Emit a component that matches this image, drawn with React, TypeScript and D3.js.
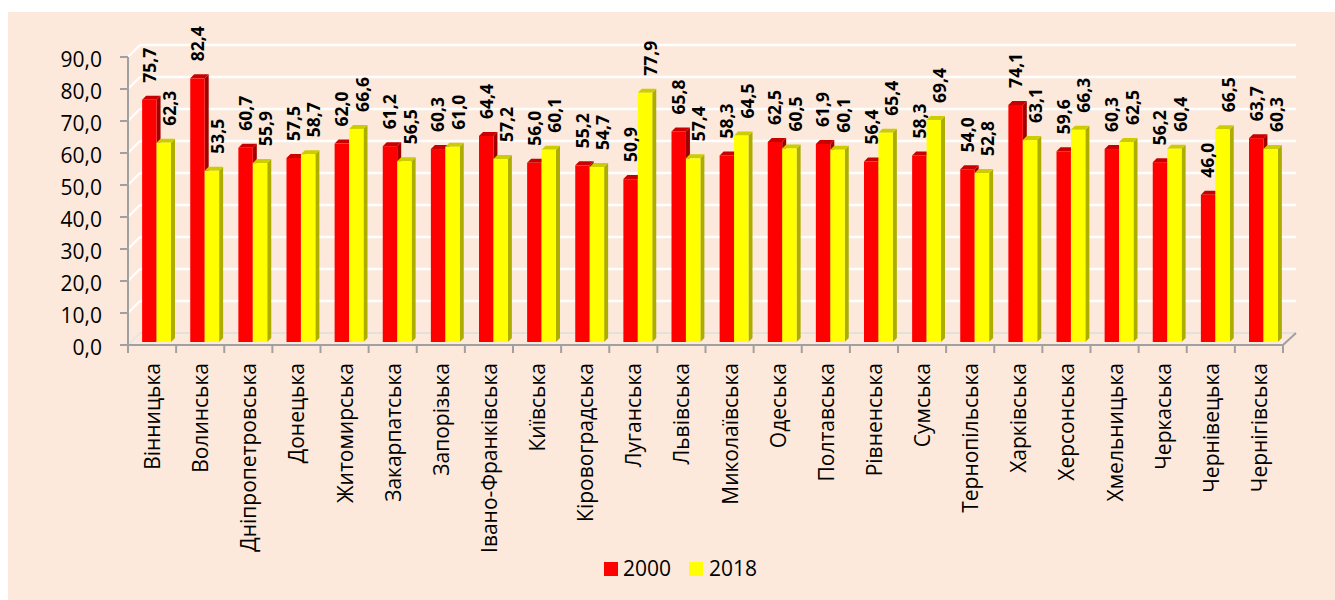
import React from "react";
import * as d3 from "d3";

const categories = [
  "Вінницька", "Волинська", "Дніпропетровська", "Донецька", "Житомирська",
  "Закарпатська", "Запорізька", "Івано-Франківська", "Київська", "Кіровоградська",
  "Луганська", "Львівська", "Миколаївська", "Одеська", "Полтавська", "Рівненська",
  "Сумська", "Тернопільська", "Харківська", "Херсонська", "Хмельницька",
  "Черкаська", "Чернівецька", "Чернігівська",
];
const values2000 = [75.7, 82.4, 60.7, 57.5, 62.0, 61.2, 60.3, 64.4, 56.0, 55.2, 50.9, 65.8, 58.3, 62.5, 61.9, 56.4, 58.3, 54.0, 74.1, 59.6, 60.3, 56.2, 46.0, 63.7];
const values2018 = [62.3, 53.5, 55.9, 58.7, 66.6, 56.5, 61.0, 57.2, 60.1, 54.7, 77.9, 57.4, 64.5, 60.5, 60.1, 65.4, 69.4, 52.8, 63.1, 66.3, 62.5, 60.4, 66.5, 60.3];
const seriesNames = ["2000", "2018"];
const yTicks = [0, 10, 20, 30, 40, 50, 60, 70, 80, 90];

const FONT = "'Open Sans', 'DejaVu Sans', sans-serif";
const BG = "#FCE9DB";
const AXIS = "#A0A0A0";
const colors = {
  "2000": { front: "#FF0000", top: "#C80000", side: "#A00000", labelShift: 0 },
  "2018": { front: "#FFFF00", top: "#CCCC00", side: "#ADAD00", labelShift: 6 },
};

const fmt = (v: number) => d3.format(".1f")(v).replace(".", ",");

export default function App() {
  const W = 1335, H = 600;
  const x0 = 128, x1 = 1283;
  const wallD = 12;
  const barShiftX = 4.5, barShiftY = 3;
  const barD = 4;
  const labelSize = 17.5;

  const y = d3.scaleLinear().domain([0, 90]).range([345, 57]);
  const x = d3.scaleBand<string>().domain(categories).range([x0, x1]).paddingInner(0).paddingOuter(0);
  const bw = x.bandwidth();
  const pairW = bw * 0.6;
  const xs = d3.scaleBand<string>().domain(seriesNames).range([0, pairW]);
  const sw = xs.bandwidth();

  const series = [
    { name: "2000", values: values2000 },
    { name: "2018", values: values2018 },
  ];

  const bars: React.ReactNode[] = [];
  const labels: React.ReactNode[] = [];
  categories.forEach((c, i) => {
    series.forEach((s) => {
      const v = s.values[i];
      const col = colors[s.name as "2000" | "2018"];
      const left = (x(c) as number) + (bw - pairW) / 2 + (xs(s.name) as number) + barShiftX;
      const right = left + sw;
      const bottom = y(0) - barShiftY;
      const top = y(v) - barShiftY;
      bars.push(
        <g key={`b-${i}-${s.name}`}>
          <polygon
            points={`${right},${top} ${right + barD},${top - barD} ${right + barD},${bottom - barD} ${right},${bottom}`}
            fill={col.side}
          />
          <polygon
            points={`${left},${top} ${right},${top} ${right + barD},${top - barD} ${left + barD},${top - barD}`}
            fill={col.top}
          />
          <rect x={left} y={top} width={sw} height={bottom - top} fill={col.front} />
        </g>
      );
      const cx = left + sw / 2 + labelSize * 0.36 + col.labelShift;
      const ly = top - 17;
      labels.push(
        <text
          key={`l-${i}-${s.name}`}
          transform={`translate(${cx},${ly}) rotate(-90)`}
          fontFamily={FONT}
          fontWeight={700}
          fontSize={labelSize}
          fill="#000"
        >
          {fmt(v)}
        </text>
      );
    });
  });

  return (
    <div style={{ position: "absolute", left: 0, top: 0 }}>
      <svg width={W} height={H} style={{ display: "block" }}>
        <rect x={0} y={0} width={W} height={H} fill="#fff" />
        <rect x={8} y={12} width={W - 8} height={H - 12} fill={BG} />

        {yTicks.map((t) => (
          <g key={`g-${t}`}>
            <line
              x1={x0}
              y1={y(t)}
              x2={x0 + wallD}
              y2={y(t) - wallD}
              stroke={t === 0 ? "#E6E6E6" : "#FFFFFF"}
              strokeWidth={2}
            />
            <line
              x1={x0 + wallD}
              y1={y(t) - wallD}
              x2={x1 + wallD + 1}
              y2={y(t) - wallD}
              stroke={t === 0 ? "#DCDCDC" : "#FFFFFF"}
              strokeWidth={t === 0 ? 1.5 : 2.5}
            />
          </g>
        ))}

        <line x1={x1} y1={y(0)} x2={x1 + wallD + 1} y2={y(0) - wallD} stroke={AXIS} strokeWidth={2} />

        {bars}

        <line x1={x0} y1={y(90)} x2={x0} y2={y(0)} stroke={AXIS} strokeWidth={2} />
        {yTicks.map((t) => (
          <g key={`yt-${t}`}>
            <line x1={x0 - 8} y1={y(t)} x2={x0} y2={y(t)} stroke={AXIS} strokeWidth={2} />
            <text
              x={102}
              y={y(t) + 10}
              textAnchor="end"
              fontFamily={FONT}
              fontSize={21}
              fill="#000"
            >
              {fmt(t)}
            </text>
          </g>
        ))}

        <line x1={x0} y1={y(0)} x2={x1} y2={y(0)} stroke={AXIS} strokeWidth={2} />
        {d3.range(categories.length + 1).map((k) => (
          <line
            key={`xt-${k}`}
            x1={x0 + k * bw}
            y1={y(0)}
            x2={x0 + k * bw}
            y2={y(0) + 8}
            stroke={AXIS}
            strokeWidth={2}
          />
        ))}
        {categories.map((c) => (
          <text
            key={`xl-${c}`}
            transform={`translate(${(x(c) as number) + bw / 2 + 8},363) rotate(-90)`}
            textAnchor="end"
            fontFamily={FONT}
            fontSize={21}
            fill="#000"
          >
            {c}
          </text>
        ))}

        {labels}

        <rect x={604} y={562} width={14} height={14} fill={colors["2000"].front} />
        <text x={623} y={576} fontFamily={FONT} fontSize={21} fill="#000">2000</text>
        <rect x={689} y={562} width={14} height={14} fill={colors["2018"].front} />
        <text x={709} y={576} fontFamily={FONT} fontSize={21} fill="#000">2018</text>
      </svg>
    </div>
  );
}
